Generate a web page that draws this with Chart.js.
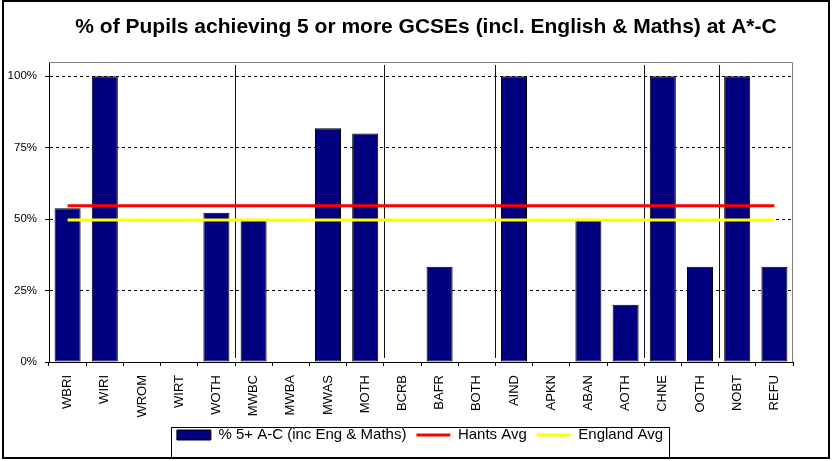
<!DOCTYPE html>
<html><head><meta charset="utf-8">
<script src="https://cdn.jsdelivr.net/npm/chart.js@4.4.1/dist/chart.umd.min.js"></script>
<style>html,body{margin:0;padding:0;background:#fff;} canvas{display:block;}</style>
</head><body>
<canvas id="c" width="834" height="461"></canvas>
<script>
const categories = ['WBRI','WIRI','WROM','WIRT','WOTH','MWBC','MWBA','MWAS','MOTH','BCRB','BAFR','BOTH','AIND','APKN','ABAN','AOTH','CHNE','OOTH','NOBT','REFU'];
const pupilsPct = [53.8, 100, 0, 0, 52.2, 50, 0, 81.8, 80, 0, 33.3, 0, 100, 0, 50, 20, 100, 33.3, 100, 33.3];
const hantsAvg = [54.7, 54.7, 54.7, 54.7, 54.7, 54.7, 54.7, 54.7, 54.7, 54.7, 54.7, 54.7, 54.7, 54.7, 54.7, 54.7, 54.7, 54.7, 54.7, 54.7];
const englandAvg = [49.7, 49.7, 49.7, 49.7, 49.7, 49.7, 49.7, 49.7, 49.7, 49.7, 49.7, 49.7, 49.7, 49.7, 49.7, 49.7, 49.7, 49.7, 49.7, 49.7];
const groupStarts = [5, 9, 12, 16, 18];
const yTicks = [0, 25, 50, 75, 100];
const seriesNames = ['% 5+ A-C (inc Eng & Maths)', 'Hants Avg', 'England Avg'];
const titleText = '% of Pupils achieving 5 or more GCSEs (incl. English & Maths) at A*-C';

Chart.defaults.font.family = "'Liberation Sans', Arial, sans-serif";
Chart.defaults.color = '#000';

const decor = {
  id: 'decor',
  beforeDraw(chart) {
    const ctx = chart.ctx;
    ctx.save(); ctx.fillStyle = '#fff'; ctx.fillRect(0, 0, chart.width, chart.height); ctx.restore();
  },
  afterLayout(chart) {
    const a = chart.chartArea;
    const mid = (a.left + a.right) / 2;
    const T = chart.titleBlock;
    if (T) { const d = mid + 5 - (T.left + T.right) / 2; T.left += d; T.right += d; }
    const L = chart.legend;
    if (L) { const d = mid - 1 - (L.left + L.right) / 2; L.left += d; L.right += d; }
  },
  beforeDatasetsDraw(chart) {
    const {ctx, chartArea: a, scales: {x}} = chart;
    ctx.save();
    ctx.lineWidth = 1;
    ctx.strokeStyle = '#808080';
    const t = Math.round(a.top) + 0.5, r = Math.round(a.right) - 0.5;
    ctx.beginPath(); ctx.moveTo(a.left, t); ctx.lineTo(r, t); ctx.lineTo(r, a.bottom); ctx.stroke();
    const half = (x.getPixelForValue(1) - x.getPixelForValue(0)) / 2;
    ctx.strokeStyle = '#111';
    groupStarts.forEach(i => {
      const px = Math.round(x.getPixelForValue(i) - half) + 0.5;
      ctx.beginPath(); ctx.moveTo(px, a.top + 3); ctx.lineTo(px, a.bottom - 4); ctx.stroke();
    });
    ctx.restore();
  },
  afterDraw(chart) {
    const ctx = chart.ctx;
    ctx.save();
    ctx.strokeStyle = '#000';
    ctx.lineWidth = 2;
    ctx.strokeRect(3, 1, 826, 457);
    const hb = chart.legend.legendHitBoxes;
    if (hb && hb.length) {
      const left = Math.min(...hb.map(h => h.left)) - 6;
      const right = Math.max(...hb.map(h => h.left + h.width)) + 6;
      const cy = hb[0].top + hb[0].height / 2;
      const top = Math.round(cy - 8.5) + 0.5;
      ctx.lineWidth = 1;
      ctx.strokeRect(Math.round(left) + 0.5, top, Math.round(right - left), 457.5 - top);
    }
    ctx.restore();
  }
};

new Chart(document.getElementById('c'), {
  type: 'bar',
  data: {
    labels: categories,
    datasets: [
      { type: 'bar', label: seriesNames[0], data: pupilsPct, backgroundColor: '#000080', borderColor: '#000', borderWidth: 1, borderSkipped: false, barPercentage: 0.7, categoryPercentage: 1, order: 3 },
      { type: 'line', label: seriesNames[1], data: hantsAvg, borderColor: '#FF0000', backgroundColor: '#FF0000', borderWidth: 3, pointRadius: 0, fill: false, order: 1 },
      { type: 'line', label: seriesNames[2], data: englandAvg, borderColor: '#FFFF00', backgroundColor: '#FFFF00', borderWidth: 3, pointRadius: 0, fill: false, order: 2 }
    ]
  },
  options: {
    responsive: false,
    animation: false,
    events: [],
    layout: { padding: { left: 0, right: 41, top: 0, bottom: 8.5 } },
    plugins: {
      tooltip: { enabled: false },
      title: { display: true, text: titleText, color: '#000', font: { size: 21, weight: 'bold' }, padding: { top: 15, bottom: 21.8 } },
      legend: {
        position: 'bottom',
        labels: {
          usePointStyle: true, pointStyleWidth: 34, boxHeight: 10, padding: 10, color: '#000',
          font: { size: 15 },
          generateLabels: () => [
            { text: seriesNames[0], fillStyle: '#000080', strokeStyle: '#000', lineWidth: 1, pointStyle: 'rect', datasetIndex: 0, hidden: false },
            { text: seriesNames[1], fillStyle: '#FF0000', strokeStyle: '#FF0000', lineWidth: 3, pointStyle: 'line', datasetIndex: 1, hidden: false },
            { text: seriesNames[2], fillStyle: '#FFFF00', strokeStyle: '#FFFF00', lineWidth: 3, pointStyle: 'line', datasetIndex: 2, hidden: false }
          ]
        }
      }
    },
    scales: {
      x: {
        afterFit: s => { s.height = 55.5; },
        grid: { display: true, drawOnChartArea: false, drawTicks: true, tickLength: 4, tickColor: '#000', offset: true },
        border: { display: true, color: '#000', width: 1 },
        ticks: { minRotation: 90, maxRotation: 90, autoSkip: false, padding: 9, color: '#000', font: { size: 13 } }
      },
      y: {
        min: 0, max: 105,
        afterFit: s => { s.width = 49; },
        afterBuildTicks: s => { s.ticks = yTicks.map(v => ({ value: v })); },
        grid: { color: c => (c.tick && c.tick.value === 0) ? 'rgba(0,0,0,0)' : '#000', tickColor: '#000', tickLength: 4, tickBorderDash: [], lineWidth: 1 },
        border: { display: true, color: '#000', width: 1, dash: [3, 3] },
        ticks: { padding: 8, color: '#000', font: { size: 11.5 }, callback: v => v + '%' }
      }
    }
  },
  plugins: [decor]
});
</script>
</body></html>
